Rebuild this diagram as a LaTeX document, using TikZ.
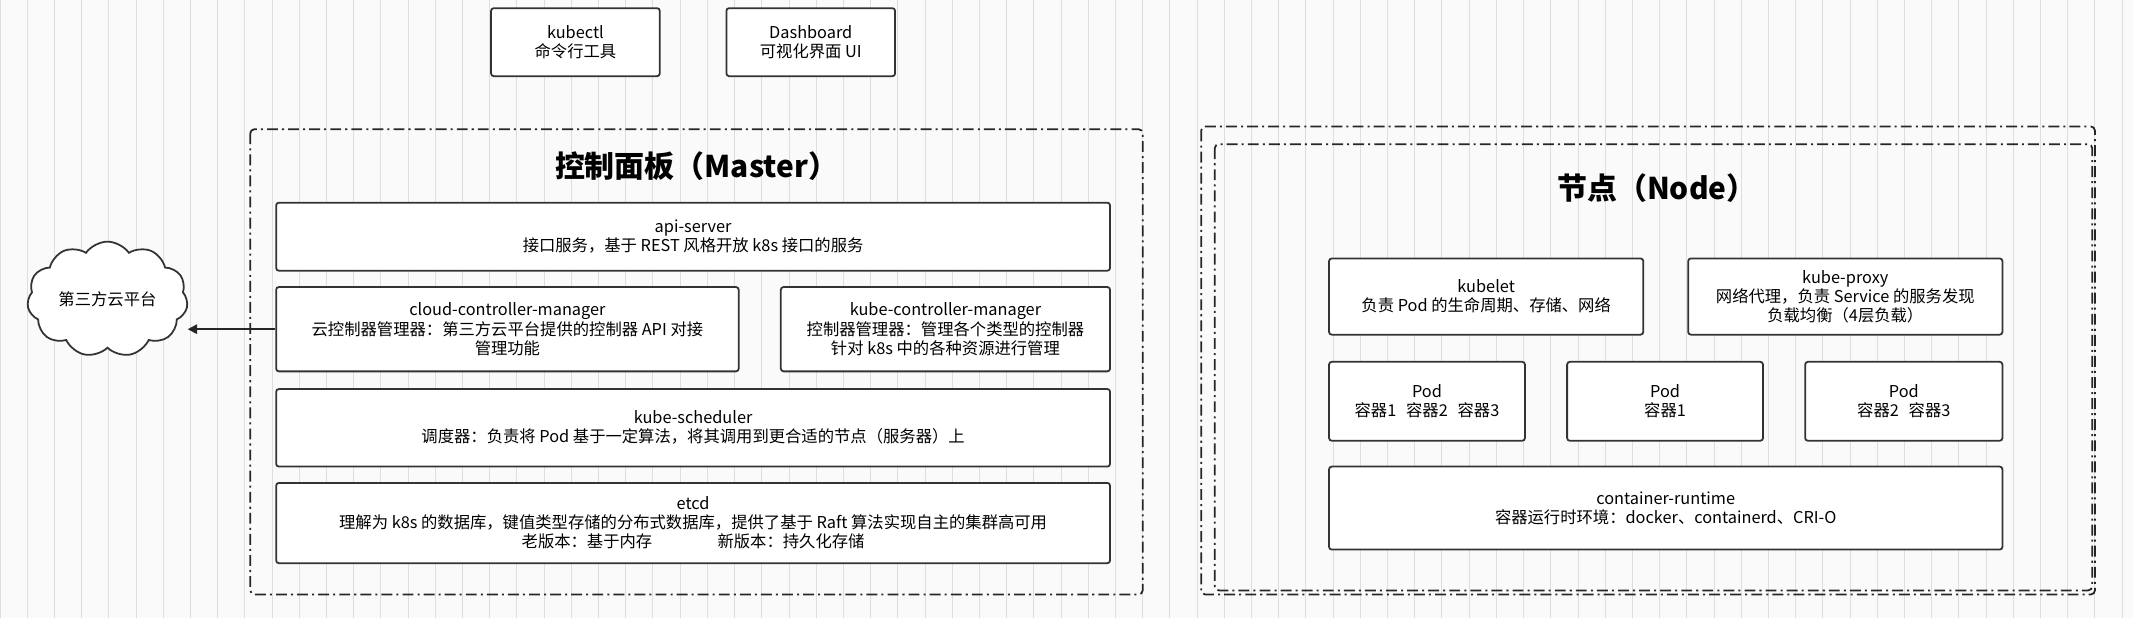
\documentclass[tikz,border=0pt]{standalone}
\usepackage{fontspec}
\setmainfont{Noto Sans CJK SC}
\usetikzlibrary{shapes.symbols,arrows.meta}
\begin{document}
\begin{tikzpicture}[x=1pt,y=-1pt,
  box/.style={draw=black!80,line width=1.3pt,rounded corners=2pt,fill=white,align=center,font=\fontsize{12}{14}\selectfont,inner sep=0pt},
  frame/.style={draw=black!85,line width=1.3pt,dash pattern=on 8pt off 3pt on 1.5pt off 3pt,rounded corners=3pt},
  title/.style={font=\fontsize{22}{25}\selectfont\bfseries}]
\useasboundingbox (0,0) rectangle (1568,454);
\fill[white!96!gray] (0,0) rectangle (1568,454);
\draw[black!13,line width=0.7pt,step=20] (0,0) grid (1568,454);
\def\bx#1#2#3#4#5#6{\node[box,minimum width=#4-#2,minimum height=#5-#3] (#1) at ({(#2+#4)/2},{(#3+#5)/2}) {#6};}
\bx{kubectl}{361}{6}{485}{56}{kubectl\\命令行工具}
\bx{dash}{534}{6}{658}{56}{Dashboard\\可视化界面 UI}
\draw[frame] (184,95) rectangle (840,437);
\node[title] (mt) at (512,122) {控制面板（Master）};
\bx{api}{203}{149}{816}{199}{api-server\\接口服务，基于 REST 风格开放 k8s 接口的服务}
\bx{ccm}{203}{211}{543}{273}{cloud-controller-manager\\云控制器管理器：第三方云平台提供的控制器 API 对接\\管理功能}
\bx{kcm}{574}{211}{816}{273}{kube-controller-manager\\控制器管理器：管理各个类型的控制器\\针对 k8s 中的各种资源进行管理}
\bx{sch}{203}{286}{816}{343}{kube-scheduler\\调度器：负责将 Pod 基于一定算法，将其调用到更合适的节点（服务器）上}
\bx{etcd}{203}{355}{816}{414}{etcd\\理解为 k8s 的数据库，键值类型存储的分布式数据库，提供了基于 Raft 算法实现自主的集群高可用\\老版本：基于内存\hspace{4em}新版本：持久化存储}
\node[cloud,draw=black!80,line width=1.3pt,fill=white,cloud puffs=11,cloud puff arc=110,aspect=1.4,minimum width=118pt,minimum height=78pt,inner sep=0pt,font=\fontsize{12}{14}\selectfont] (cloud) at (79,220) {第三方云平台};
\draw[line width=1.3pt,black!85,-{Triangle[length=7pt,width=7pt]}] (ccm.west) -- (cloud.east |- ccm.west);
\draw[frame] (883,93) rectangle (1540,437);
\draw[frame] (893,106) rectangle (1538,434);
\node[title] (nt) at (1218,138) {节点（Node）};
\bx{kubelet}{977}{190}{1208}{246}{kubelet\\负责 Pod 的生命周期、存储、网络}
\bx{proxy}{1241}{190}{1472}{246}{kube-proxy\\网络代理，负责 Service 的服务发现\\负载均衡（4层负载）}
\bx{pod1}{977}{266}{1121}{324}{Pod\\容器1\hspace{0.6em}容器2\hspace{0.6em}容器3}
\bx{pod2}{1152}{266}{1296}{324}{Pod\\容器1}
\bx{pod3}{1327}{266}{1472}{324}{Pod\\容器2\hspace{0.6em}容器3}
\bx{cr}{977}{343}{1472}{404}{container-runtime\\容器运行时环境：docker、containerd、CRI-O}
\end{tikzpicture}
\end{document}
